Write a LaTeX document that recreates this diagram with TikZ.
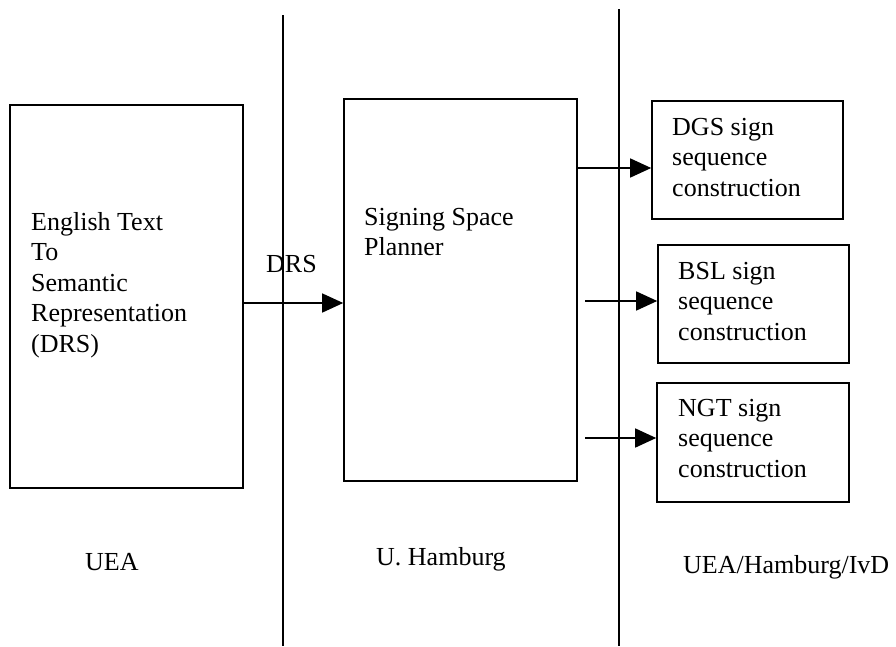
\documentclass[tikz,border=0pt]{standalone}
\usepackage{fontspec}
\setmainfont{Liberation Serif}
\usetikzlibrary{arrows.meta}
\tikzset{
  boxnode/.style={draw=black, line width=1.6pt, minimum width=#1, inner sep=0pt},
  arr/.style={line width=1.4pt, -{Triangle[length=21pt,width=19pt]}},
  divider/.style={line width=1.6pt},
  txt/.style={anchor=base west, inner sep=0pt, font=\fontsize{26}{30.5}\selectfont},
}
\newcommand{\lines}[1]{\parbox[t]{220pt}{\raggedright #1}}
\begin{document}
\begin{tikzpicture}[x=1pt,y=-1pt]
\useasboundingbox (0,0) rectangle (896,646);
% dividers
\coordinate (v1t) at (283,15);
\coordinate (v1b) at (283,646);
\coordinate (v2t) at (619,9);
\coordinate (v2b) at (619,646);
\draw[divider] (v1t) -- (v1b);
\draw[divider] (v2t) -- (v2b);
% boxes
\node[boxnode=233pt, minimum height=383pt] (b1) at (126.5,296.5) {};
\node[boxnode=233pt, minimum height=382pt] (b2) at (460.5,290) {};
\node[boxnode=191pt, minimum height=118pt] (dgs) at (747.5,160) {};
\node[boxnode=191pt, minimum height=118pt] (bsl) at (753.5,304) {};
\node[boxnode=192pt, minimum height=119pt] (ngt) at (753,442.5) {};
% texts
\node[txt] (t1) at (31,230) {\lines{English Text\\To\\Semantic\\Representation\\(DRS)}};
\node[txt] (t2) at (364,225) {\lines{Signing Space\\Planner}};
\node[txt] (t3) at (672,135) {\lines{DGS sign\\sequence\\construction}};
\node[txt] (t4) at (678,279) {\lines{BSL sign\\sequence\\construction}};
\node[txt] (t5) at (678,416) {\lines{NGT sign\\sequence\\construction}};
\node[txt] (drs) at (266,272) {DRS};
\node[txt] (l1) at (85,570) {UEA};
\node[txt] (l2) at (376,565) {U. Hamburg};
\node[txt] (l3) at (683,573) {UEA/Hamburg/IvD};
% arrows
\coordinate (s3) at (585,301);
\coordinate (s4) at (585,438);
\draw[arr] (b1.east |- 0,303) -- (b2.west |- 0,303);
\draw[arr] (b2.east |- 0,168) -- (dgs.west |- 0,168);
\draw[arr] (s3) -- (bsl.west |- s3);
\draw[arr] (s4) -- (ngt.west |- s4);
\end{tikzpicture}
\end{document}
